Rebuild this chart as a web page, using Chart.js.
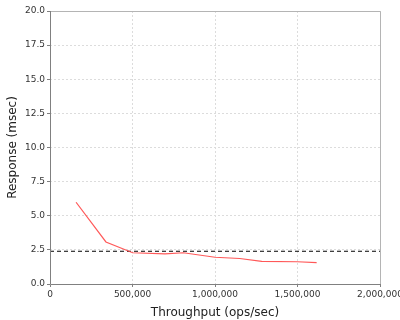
<!DOCTYPE html>
<html lang="en">
<head>
<meta charset="UTF-8">
<title>Throughput vs Response</title>
<script src="https://cdn.jsdelivr.net/npm/chart.js"></script>
<style>
  html, body { margin: 0; padding: 0; background: #fff; }
</style>
</head>
<body>
<canvas id="chart" width="400" height="320"></canvas>
<script>
// throughput (ops/sec) and response (msec)
const throughput = [158000, 339000, 501000, 697000, 808000, 1000000, 1150000, 1283000, 1499000, 1616000];
const response   = [5.99, 3.08, 2.29, 2.20, 2.29, 1.96, 1.87, 1.66, 1.63, 1.56];
const targetLine = 2.4;
const xTicks = [0, 500000, 1000000, 1500000, 2000000];
const yTicks = [0, 2.5, 5, 7.5, 10, 12.5, 15, 17.5, 20];

const points = throughput.map((x, i) => ({ x: x, y: response[i] }));

// border round the plot area: darker on left/bottom, lighter on top/right
const frame = {
  id: 'frame',
  afterDraw(chart) {
    const { ctx, chartArea: a } = chart;
    ctx.save();
    ctx.lineWidth = 1;
    ctx.strokeStyle = '#b4b4b4';
    ctx.beginPath();
    ctx.moveTo(a.left, a.top + 0.5);
    ctx.lineTo(a.right + 0.5, a.top + 0.5);
    ctx.lineTo(a.right + 0.5, a.bottom);
    ctx.stroke();
    ctx.strokeStyle = '#808080';
    ctx.beginPath();
    ctx.moveTo(a.left + 0.5, a.top);
    ctx.lineTo(a.left + 0.5, a.bottom + 0.5);
    ctx.lineTo(a.right, a.bottom + 0.5);
    ctx.stroke();
    ctx.restore();
  }
};

new Chart(document.getElementById('chart'), {
  type: 'scatter',
  data: {
    datasets: [{
      data: points,
      showLine: true,
      borderColor: 'rgba(255, 70, 70, 0.9)',
      borderWidth: 1.2,
      pointRadius: 0,
      tension: 0
    }, {
      data: [{ x: 0, y: targetLine }, { x: 2000000, y: targetLine }],
      showLine: true,
      borderColor: '#000',
      borderWidth: 1.2,
      borderDash: [4, 3],
      pointRadius: 0
    }]
  },
  plugins: [frame],
  options: {
    responsive: false,
    animation: false,
    layout: { padding: { top: 11, right: 20, left: 6, bottom: 0 } },
    plugins: { legend: { display: false }, tooltip: { enabled: false } },
    scales: {
      x: {
        type: 'linear',
        min: 0, max: 2000000,
        afterBuildTicks: s => { s.ticks = xTicks.map(v => ({ value: v })); },
        afterFit: s => { s.height = 36; s.paddingRight = 0; },
        ticks: {
          color: '#333',
          font: { family: 'DejaVu Sans', size: 9 },
          padding: 2,
          maxRotation: 0,
          callback: v => v.toLocaleString('en-US')
        },
        grid: { color: '#dcdcdc', tickLength: 3, tickColor: '#808080' },
        border: { display: false, dash: [2, 2] },
        title: {
          display: true, text: 'Throughput (ops/sec)',
          color: '#222', font: { family: 'DejaVu Sans', size: 12 }, padding: { top: 1, bottom: 0 }
        }
      },
      y: {
        min: 0, max: 20,
        afterBuildTicks: s => { s.ticks = yTicks.map(v => ({ value: v })); },
        afterFit: s => { s.width = 44; },
        ticks: {
          color: '#333',
          font: { family: 'DejaVu Sans', size: 9 },
          padding: 2,
          callback: v => v.toFixed(1)
        },
        grid: { color: '#dcdcdc', tickLength: 3, tickColor: '#808080' },
        border: { display: false, dash: [2, 2] },
        title: {
          display: true, text: 'Response (msec)',
          color: '#222', font: { family: 'DejaVu Sans', size: 12 }, padding: { top: 0, bottom: 2 }
        }
      }
    }
  }
});
</script>
</body>
</html>
